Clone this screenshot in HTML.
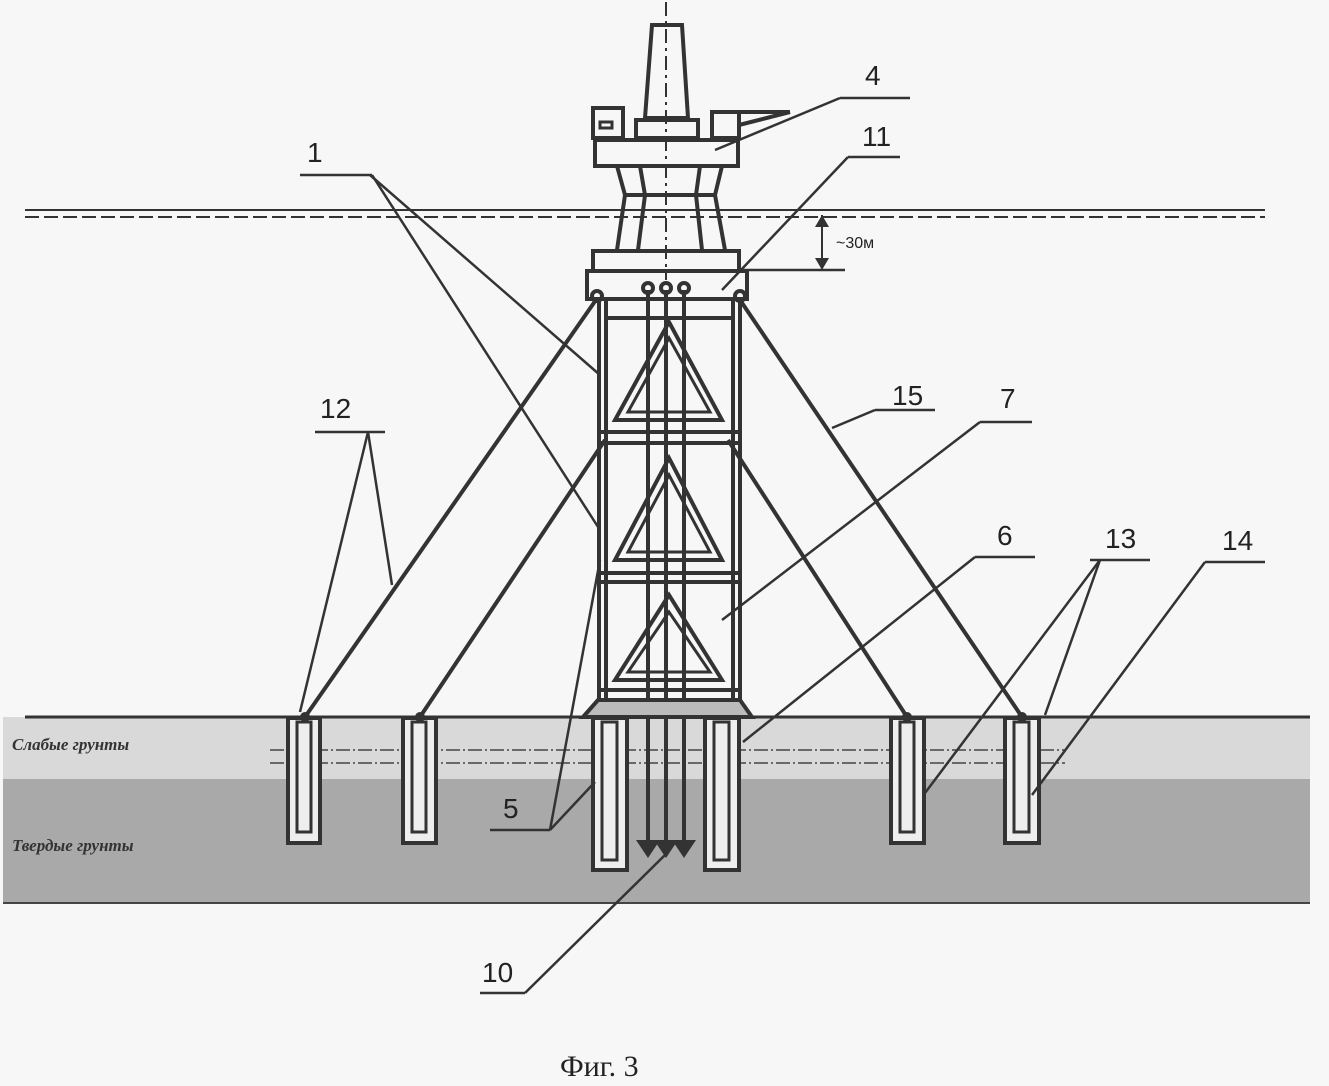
<!DOCTYPE html><html><head><meta charset="utf-8"><style>body{margin:0;background:#f7f7f7}svg{display:block}</style></head><body>
<svg width="1329" height="1086" viewBox="0 0 1329 1086" xmlns="http://www.w3.org/2000/svg" font-family="Liberation Sans, sans-serif">
<rect width="1329" height="1086" fill="#f7f7f7"/>
<rect x="3" y="717" width="1307" height="62" fill="#d9d9d9"/>
<rect x="3" y="779" width="1307" height="124" fill="#a9a9a9"/>
<line x1="3" y1="903" x2="1310" y2="903" stroke="#444" stroke-width="2"/>
<line x1="25" y1="717" x2="1310" y2="717" stroke="#333" stroke-width="3"/>
<g stroke="#444" stroke-width="1.5" stroke-dasharray="14,3,2,3" fill="none">
<line x1="270" y1="750" x2="1065" y2="750"/><line x1="270" y1="763" x2="1065" y2="763"/></g>
<line x1="25" y1="210" x2="1265" y2="210" stroke="#333" stroke-width="2"/>
<line x1="25" y1="217" x2="1265" y2="217" stroke="#333" stroke-width="2" stroke-dasharray="14,5"/>
<g stroke="#333" stroke-width="4" fill="none">
<line x1="598" y1="297" x2="305" y2="717"/><line x1="605" y1="440" x2="420" y2="717"/>
<line x1="738" y1="297" x2="1022" y2="717"/><line x1="728" y1="440" x2="907" y2="717"/>
<polygon points="652,25 682,25 688,118 645,118" fill="#f7f7f7"/>
<rect x="636" y="120" width="62" height="18" fill="#f7f7f7"/>
<rect x="593" y="108" width="30" height="30" fill="#f7f7f7"/>
<rect x="600" y="122" width="12" height="6" stroke-width="3"/>
<rect x="712" y="112" width="27" height="26" fill="#f7f7f7"/>
<line x1="739" y1="112" x2="790" y2="112"/><line x1="739" y1="125" x2="790" y2="112"/>
<rect x="595" y="140" width="143" height="26" fill="#f7f7f7"/>
<path d="M617,166 L625,195 L617,250 M640,166 L645,195 L638,250 M700,166 L696,195 L702,250 M722,166 L715,195 L725,250 M625,195 L715,195"/>
<rect x="593" y="251" width="146" height="20" fill="#f7f7f7"/>
<rect x="587" y="271" width="160" height="28" fill="#f7f7f7"/>
<line x1="599" y1="300" x2="599" y2="700"/><line x1="606" y1="300" x2="606" y2="700"/>
<line x1="733" y1="300" x2="733" y2="700"/><line x1="740" y1="300" x2="740" y2="700"/>
<line x1="606" y1="318" x2="733" y2="318"/>
<line x1="599" y1="432" x2="740" y2="432"/><line x1="599" y1="443" x2="740" y2="443"/>
<line x1="599" y1="573" x2="740" y2="573"/><line x1="599" y1="582" x2="740" y2="582"/>
<line x1="599" y1="690" x2="740" y2="690"/>
<polygon points="669,322 615,420 722,420"/><polygon points="669,338 628,412 710,412" stroke-width="3"/>
<polygon points="669,458 615,560 722,560"/><polygon points="669,475 628,552 710,552" stroke-width="3"/>
<polygon points="669,595 615,680 722,680"/><polygon points="669,612 628,672 710,672" stroke-width="3"/>
<line x1="648" y1="290" x2="648" y2="840"/><line x1="666" y1="290" x2="666" y2="840"/><line x1="684" y1="290" x2="684" y2="840"/>
<circle cx="648" cy="288" r="5"/><circle cx="666" cy="288" r="5"/><circle cx="684" cy="288" r="5"/>
<circle cx="597" cy="296" r="5"/><circle cx="740" cy="296" r="5"/>
<polygon points="598,700 740,700 752,717 583,717" fill="#bbb"/>
</g>
<line x1="666" y1="2" x2="666" y2="280" stroke="#333" stroke-width="2" stroke-dasharray="14,5,3,5"/>
<polygon points="636,840 660,840 648,858" fill="#333"/><polygon points="654,840 678,840 666,858" fill="#333"/><polygon points="672,840 696,840 684,858" fill="#333"/>
<g stroke="#333" stroke-width="4" fill="#eee">
<rect x="288" y="718" width="32" height="125"/><rect x="403" y="718" width="33" height="125"/>
<rect x="593" y="718" width="34" height="152"/><rect x="705" y="718" width="34" height="152"/>
<rect x="891" y="718" width="33" height="125"/><rect x="1005" y="718" width="34" height="125"/>
</g>
<g stroke="#333" stroke-width="3" fill="none">
<rect x="297" y="722" width="14" height="110"/><rect x="412" y="722" width="14" height="110"/>
<rect x="602" y="722" width="15" height="138"/><rect x="714" y="722" width="15" height="138"/>
<rect x="900" y="722" width="14" height="110"/><rect x="1014" y="722" width="15" height="110"/>
</g>
<g fill="#333"><circle cx="305" cy="717" r="5"/><circle cx="420" cy="717" r="5"/><circle cx="907" cy="717" r="5"/><circle cx="1022" cy="717" r="5"/></g>
<g stroke="#333" stroke-width="2.5" fill="none">
<line x1="300" y1="175" x2="372" y2="175"/><line x1="370" y1="175" x2="600" y2="375"/><line x1="372" y1="175" x2="600" y2="530"/>
<line x1="840" y1="98" x2="910" y2="98"/><line x1="840" y1="98" x2="715" y2="150"/>
<line x1="848" y1="157" x2="900" y2="157"/><line x1="848" y1="157" x2="722" y2="290"/>
<line x1="740" y1="270" x2="845" y2="270"/>
<line x1="822" y1="215" x2="822" y2="268" stroke-width="2"/>
<line x1="315" y1="432" x2="385" y2="432"/><line x1="368" y1="432" x2="300" y2="712"/><line x1="368" y1="432" x2="392" y2="585"/>
<line x1="875" y1="410" x2="935" y2="410"/><line x1="875" y1="410" x2="832" y2="428"/>
<line x1="980" y1="422" x2="1032" y2="422"/><line x1="980" y1="422" x2="722" y2="620"/>
<line x1="975" y1="557" x2="1035" y2="557"/><line x1="975" y1="557" x2="743" y2="742"/>
<line x1="1090" y1="560" x2="1150" y2="560"/><line x1="1100" y1="560" x2="1045" y2="715"/><line x1="1100" y1="560" x2="925" y2="793"/>
<line x1="1205" y1="562" x2="1265" y2="562"/><line x1="1205" y1="562" x2="1032" y2="795"/>
<line x1="490" y1="830" x2="550" y2="830"/><line x1="550" y1="830" x2="595" y2="782"/><line x1="550" y1="830" x2="600" y2="560"/>
<line x1="480" y1="993" x2="525" y2="993"/><line x1="525" y1="993" x2="665" y2="855"/>
</g>
<polygon points="815,227 829,227 822,215" fill="#333"/><polygon points="815,258 829,258 822,270" fill="#333"/>
<g font-size="28" fill="#222">
<text x="307" y="162">1</text><text x="865" y="85">4</text><text x="862" y="146">11</text>
<text x="320" y="418">12</text><text x="892" y="405">15</text><text x="1000" y="408">7</text>
<text x="997" y="545">6</text><text x="1105" y="548">13</text><text x="1222" y="550">14</text>
<text x="503" y="818">5</text><text x="482" y="982">10</text>
</g>
<text x="836" y="248" font-size="16" fill="#222">~30м</text>
<g font-family="Liberation Serif, serif" font-style="italic" font-weight="bold" font-size="17" fill="#333">
<text x="12" y="750">Слабые грунты</text><text x="12" y="851">Твердые грунты</text></g>
<text x="560" y="1076" font-family="Liberation Serif, serif" font-size="30" fill="#222">Фиг. 3</text>
</svg></body></html>
